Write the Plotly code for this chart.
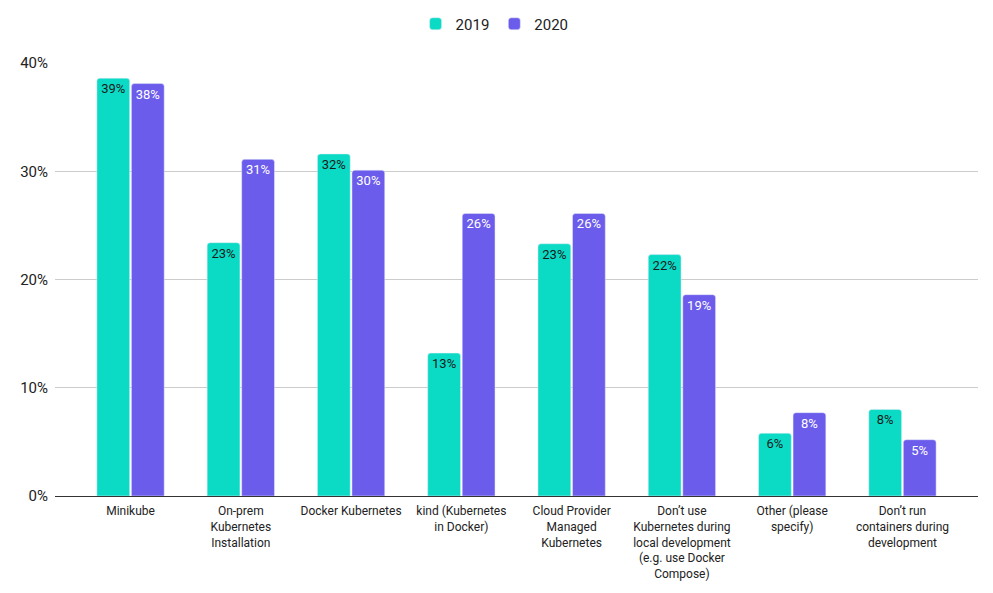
import plotly.graph_objects as go

categories = [
    "Minikube",
    "On-prem<br>Kubernetes<br>Installation",
    "Docker Kubernetes",
    "kind (Kubernetes<br>in Docker)",
    "Cloud Provider<br>Managed<br>Kubernetes",
    "Don’t use<br>Kubernetes during<br>local development<br>(e.g. use Docker<br>Compose)",
    "Other (please<br>specify)",
    "Don’t run<br>containers during<br>development",
]
values_2019 = [38.6, 23.4, 31.6, 13.2, 23.3, 22.3, 5.8, 8.0]
values_2020 = [38.1, 31.1, 30.1, 26.1, 26.1, 18.6, 7.7, 5.2]

TEAL = "#0BDAC5"
PURPLE = "#6C5CEB"

fig = go.Figure()
fig.add_trace(go.Bar(
    name="2019", x=categories, y=values_2019, marker_color=TEAL,
    marker_cornerradius=3,
    texttemplate="%{y:.0f}%", textposition="inside", insidetextanchor="end",
    textangle=0, constraintext="none",
    insidetextfont=dict(color="#1a1a1a", size=13, family="Roboto"),
))
fig.add_trace(go.Bar(
    name="2020", x=categories, y=values_2020, marker_color=PURPLE,
    marker_cornerradius=3,
    texttemplate="%{y:.0f}%", textposition="inside", insidetextanchor="end",
    textangle=0, constraintext="none",
    insidetextfont=dict(color="#ffffff", size=13, family="Roboto"),
))

fig.update_layout(
    width=985, height=585,
    margin=dict(l=47, r=15, t=55, b=97, autoexpand=False),
    paper_bgcolor="white", plot_bgcolor="white",
    font=dict(family="Roboto", size=12, color="#222222"),
    barmode="group", bargap=0.374, bargroupgap=0.05,
    hovermode=False,
    legend=dict(orientation="h", x=0.494, xanchor="center", xref="container",
                y=1 - 16 / 585, yanchor="middle",
                yref="container", font=dict(size=15, color="#222222"),
                traceorder="normal"),
    xaxis=dict(
        range=[-0.685, 7.685], showgrid=False, showline=True, linecolor="#333333",
        linewidth=1, ticks="", tickfont=dict(size=12, color="#222222"), tickangle=0,
        fixedrange=True, automargin=False, ticklabelstandoff=4,
    ),
    yaxis=dict(
        range=[0, 40], dtick=10, ticksuffix="%", showgrid=True, gridcolor="#cccccc",
        gridwidth=1, zeroline=False, showline=False, ticks="",
        tickfont=dict(size=15, color="#222222"), fixedrange=True, automargin=False,
        ticklabelstandoff=6,
    ),
)

fig.write_html("out.html")
